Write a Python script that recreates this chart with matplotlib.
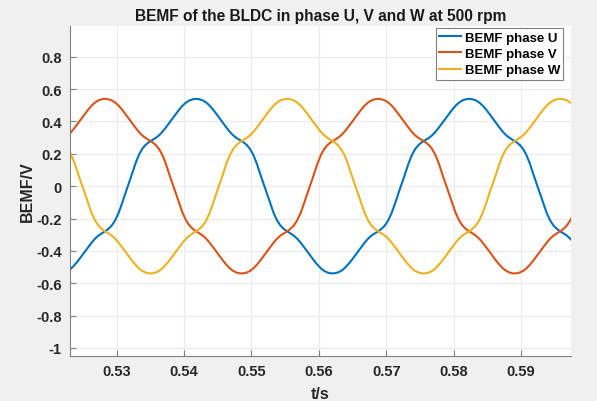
import numpy as np
import matplotlib
matplotlib.use("Agg")
import matplotlib.pyplot as plt

plt.rcParams['font.family'] = ['Liberation Sans', 'DejaVu Sans']

# time sampling (s)
t_start = 0.5228
t_step = 0.0005

# BEMF values (V)
bemf_u = [
    -0.524, -0.508, -0.486, -0.461, -0.433, -0.404, -0.376, -0.349, -0.325, -0.306,
    -0.292, -0.279, -0.264, -0.243, -0.211, -0.166, -0.108, -0.045, 0.015, 0.076,
    0.140, 0.192, 0.230, 0.255, 0.272, 0.285, 0.298, 0.314, 0.336, 0.362,
    0.390, 0.418, 0.447, 0.474, 0.498, 0.517, 0.530, 0.537,
    0.540, 0.537, 0.530, 0.517, 0.498, 0.474, 0.447, 0.418, 0.390, 0.362,
    0.336, 0.314, 0.298, 0.285, 0.272, 0.255, 0.230, 0.192, 0.140, 0.076,
    0.015, -0.045, -0.108, -0.166, -0.211, -0.243, -0.264, -0.279, -0.292, -0.306,
    -0.325, -0.349, -0.376, -0.404, -0.433, -0.461, -0.486, -0.508, -0.524, -0.534,
    -0.539, -0.539, -0.534, -0.524, -0.508, -0.486, -0.461, -0.433, -0.404, -0.376,
    -0.349, -0.325, -0.306, -0.292, -0.279, -0.264, -0.243, -0.211, -0.166, -0.108,
    -0.045, 0.015, 0.076, 0.140, 0.192, 0.230, 0.255, 0.272, 0.285, 0.298,
    0.314, 0.336, 0.362, 0.390, 0.418, 0.447, 0.474, 0.498, 0.517, 0.530,
    0.537,
    0.540, 0.537, 0.530, 0.517, 0.498, 0.474, 0.447, 0.418, 0.390, 0.362,
    0.336, 0.314, 0.298, 0.285, 0.272, 0.255, 0.230, 0.192, 0.140, 0.076,
    0.015, -0.045, -0.108, -0.166, -0.211, -0.243, -0.264, -0.279, -0.292, -0.306,
    -0.325, -0.349,
]

bemf_v = [
    0.314, 0.336, 0.362, 0.390, 0.418, 0.447, 0.474, 0.498, 0.517, 0.530,
    0.537,
    0.540, 0.537, 0.530, 0.517, 0.498, 0.474, 0.447, 0.418, 0.390, 0.362,
    0.336, 0.314, 0.298, 0.285, 0.272, 0.255, 0.230, 0.192, 0.140, 0.076,
    0.015, -0.045, -0.108, -0.166, -0.211, -0.243, -0.264, -0.279, -0.292, -0.306,
    -0.325, -0.349, -0.376, -0.404, -0.433, -0.461, -0.486, -0.508, -0.524, -0.534,
    -0.539, -0.539, -0.534, -0.524, -0.508, -0.486, -0.461, -0.433, -0.404, -0.376,
    -0.349, -0.325, -0.306, -0.292, -0.279, -0.264, -0.243, -0.211, -0.166, -0.108,
    -0.045, 0.015, 0.076, 0.140, 0.192, 0.230, 0.255, 0.272, 0.285, 0.298,
    0.314, 0.336, 0.362, 0.390, 0.418, 0.447, 0.474, 0.498, 0.517, 0.530,
    0.537,
    0.540, 0.537, 0.530, 0.517, 0.498, 0.474, 0.447, 0.418, 0.390, 0.362,
    0.336, 0.314, 0.298, 0.285, 0.272, 0.255, 0.230, 0.192, 0.140, 0.076,
    0.015, -0.045, -0.108, -0.166, -0.211, -0.243, -0.264, -0.279, -0.292, -0.306,
    -0.325, -0.349, -0.376, -0.404, -0.433, -0.461, -0.486, -0.508, -0.524, -0.534,
    -0.539, -0.539, -0.534, -0.524, -0.508, -0.486, -0.461, -0.433, -0.404, -0.376,
    -0.349, -0.325, -0.306, -0.292, -0.279, -0.264, -0.243, -0.211, -0.166,
]

bemf_w = [
    0.230, 0.192, 0.140, 0.076,
    0.015, -0.045, -0.108, -0.166, -0.211, -0.243, -0.264, -0.279, -0.292, -0.306,
    -0.325, -0.349, -0.376, -0.404, -0.433, -0.461, -0.486, -0.508, -0.524, -0.534,
    -0.539, -0.539, -0.534, -0.524, -0.508, -0.486, -0.461, -0.433, -0.404, -0.376,
    -0.349, -0.325, -0.306, -0.292, -0.279, -0.264, -0.243, -0.211, -0.166, -0.108,
    -0.045, 0.015, 0.076, 0.140, 0.192, 0.230, 0.255, 0.272, 0.285, 0.298,
    0.314, 0.336, 0.362, 0.390, 0.418, 0.447, 0.474, 0.498, 0.517, 0.530,
    0.537,
    0.540, 0.537, 0.530, 0.517, 0.498, 0.474, 0.447, 0.418, 0.390, 0.362,
    0.336, 0.314, 0.298, 0.285, 0.272, 0.255, 0.230, 0.192, 0.140, 0.076,
    0.015, -0.045, -0.108, -0.166, -0.211, -0.243, -0.264, -0.279, -0.292, -0.306,
    -0.325, -0.349, -0.376, -0.404, -0.433, -0.461, -0.486, -0.508, -0.524, -0.534,
    -0.539, -0.539, -0.534, -0.524, -0.508, -0.486, -0.461, -0.433, -0.404, -0.376,
    -0.349, -0.325, -0.306, -0.292, -0.279, -0.264, -0.243, -0.211, -0.166, -0.108,
    -0.045, 0.015, 0.076, 0.140, 0.192, 0.230, 0.255, 0.272, 0.285, 0.298,
    0.314, 0.336, 0.362, 0.390, 0.418, 0.447, 0.474, 0.498, 0.517, 0.530,
    0.537,
    0.540, 0.537, 0.530, 0.517, 0.498,
]

series_labels = ['BEMF phase U', 'BEMF phase V', 'BEMF phase W']
series_colors = ['#0072BD', '#D95319', '#EDB120']
x_ticks = [0.53, 0.54, 0.55, 0.56, 0.57, 0.58, 0.59]
y_ticks = [-1, -0.8, -0.6, -0.4, -0.2, 0, 0.2, 0.4, 0.6, 0.8]
y_tick_labels = ['-1', '-0.8', '-0.6', '-0.4', '-0.2', '0', '0.2', '0.4', '0.6', '0.8']

fig = plt.figure(figsize=(5.97, 4.02), dpi=100, facecolor='#f0f0f0')
ax = fig.add_axes([0.1173, 0.1119, 0.8391, 0.8209])
ax.set_facecolor('white')

for vals, lab, col in zip([bemf_u, bemf_v, bemf_w], series_labels, series_colors):
    tt = t_start + t_step * np.arange(len(vals))
    ax.plot(tt, vals, color=col, lw=1.5, label=lab)

ax.set_xlim(0.5231, 0.5974)
ax.set_ylim(-1.05, 0.99)
ax.set_xticks(x_ticks)
ax.set_xticklabels([f'{v:g}' for v in x_ticks])
ax.set_yticks(y_ticks)
ax.set_yticklabels(y_tick_labels)

ax.grid(True, color='#ebebeb', lw=0.8)
ax.set_axisbelow(True)
for s in ['top', 'right']:
    ax.spines[s].set_visible(False)
for s in ['left', 'bottom']:
    ax.spines[s].set_color('#808080')
    ax.spines[s].set_linewidth(0.8)
ax.tick_params(direction='in', length=4, color='#808080', width=0.8,
               labelsize=10.5, labelcolor='#262626', pad=6)
for lbl in ax.get_xticklabels() + ax.get_yticklabels():
    lbl.set_fontweight('bold')

ax.set_title('BEMF of the BLDC in phase U, V and W at 500 rpm',
             fontsize=11.2, fontweight='bold', color='#1a1a1a', pad=4)
ax.set_xlabel('t/s', fontsize=11.5, fontweight='bold', color='#262626')
ax.set_ylabel('BEMF/V', fontsize=11.5, fontweight='bold', color='#262626')
ax.xaxis.set_label_coords(0.5, -0.09)
ax.yaxis.set_label_coords(-0.07, 0.5)

leg = ax.legend(loc='upper right', bbox_to_anchor=(0.9846, 0.993), fancybox=False,
                framealpha=1, edgecolor='#808080',
                prop={'weight': 'bold', 'size': 9.5}, handlelength=1.7,
                borderaxespad=0, borderpad=0.25, labelspacing=0.3, handletextpad=0.25)
leg.get_frame().set_linewidth(0.8)

fig.savefig('out.png', dpi=100, facecolor=fig.get_facecolor())
